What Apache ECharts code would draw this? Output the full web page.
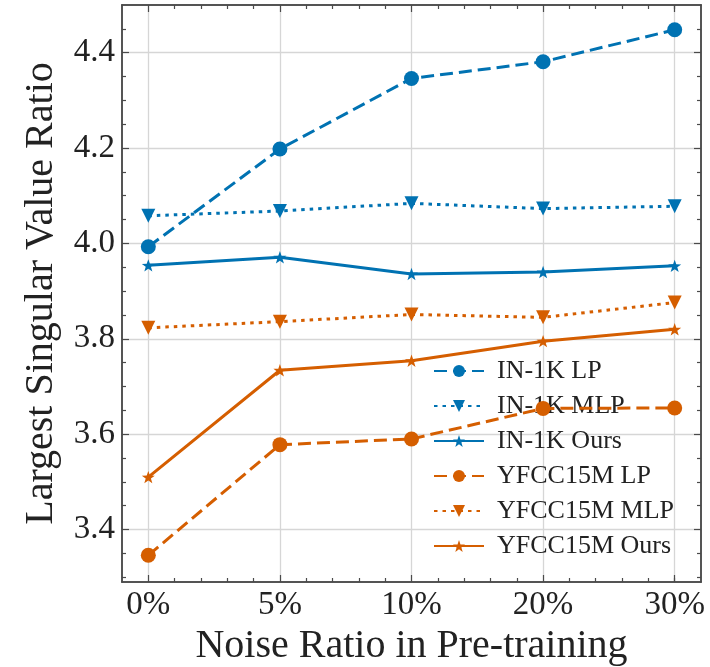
<!DOCTYPE html>
<html>
<head>
<meta charset="utf-8">
<script src="https://cdn.jsdelivr.net/npm/echarts@6/dist/echarts.min.js"></script>
<style>
  html, body { margin: 0; padding: 0; background: #fff; }
  #chart { width: 710px; height: 667px; }
</style>
</head>
<body>
<div id="chart"></div>
<script>
// Noise ratios used in pre-training (x categories)
const categories = ['0%', '5%', '10%', '20%', '30%'];

// Largest singular value ratio per setting
const in1kLP    = [3.993, 4.198, 4.346, 4.381, 4.448];
const in1kMLP   = [4.058, 4.068, 4.084, 4.073, 4.078];
const in1kOurs  = [3.954, 3.971, 3.936, 3.940, 3.953];
const yfccLP    = [3.346, 3.578, 3.590, 3.654, 3.655];
const yfccMLP   = [3.823, 3.836, 3.851, 3.845, 3.876];
const yfccOurs  = [3.510, 3.734, 3.754, 3.795, 3.820];

// Axis ticks
const yMajorTicks = [3.4, 3.6, 3.8, 4.0, 4.2, 4.4];
const yMinorTicks = [3.3, 3.35, 3.45, 3.5, 3.55, 3.65, 3.7, 3.75, 3.85, 3.9, 3.95,
                     4.05, 4.1, 4.15, 4.25, 4.3, 4.35, 4.45];
const xMajorTicks = [0, 1, 2, 3, 4];
const xMinorTicks = [0.2, 0.4, 0.6, 0.8, 1.2, 1.4, 1.6, 1.8, 2.2, 2.4, 2.6, 2.8,
                     3.2, 3.4, 3.6, 3.8, 4.0];

const BLUE = '#0072B2';
const ORANGE = '#D55E00';
const FONT = 'Liberation Serif';
const FRAME = '#4a4a4a';
const STAR = 'path://M0,-10 L2.35,-3.24 L9.51,-3.09 L3.8,1.24 L5.88,8.09 L0,4 L-5.88,8.09 L-3.8,1.24 L-9.51,-3.09 L-2.35,-3.24 Z';

const X_MIN = -0.2, X_MAX = 4.2, Y_MIN = 3.29, Y_MAX = 4.5;

function pts(values) {
  return values.map((v, i) => [i, v]);
}

function makeSeries(name, values, color, dash, symbol, size, rotate) {
  return {
    name: name,
    type: 'line',
    data: pts(values),
    xAxisIndex: 0,
    yAxisIndex: 0,
    symbol: symbol,
    symbolSize: size,
    symbolRotate: rotate || 0,
    symbolKeepAspect: true,
    showAllSymbol: true,
    itemStyle: { color: color, borderWidth: 0 },
    lineStyle: { color: color, width: 3, type: dash, cap: 'butt' },
    emphasis: { disabled: true },
    animation: false,
    z: 5
  };
}

const DASH = [13, 6];
const DOT = [3.5, 5];

function tickAxis(kind, position, ticks, len, withLabels, withSplit) {
  const isX = kind === 'x';
  return {
    type: 'value',
    position: position,
    min: isX ? X_MIN : Y_MIN,
    max: isX ? X_MAX : Y_MAX,
    axisLine: { show: true, onZero: false, lineStyle: { color: FRAME, width: 1.5 } },
    axisTick: {
      show: true, inside: true, length: len, customValues: ticks,
      lineStyle: { color: FRAME, width: 1.2 }
    },
    axisLabel: withLabels ? {
      show: true,
      customValues: ticks,
      fontFamily: FONT,
      fontSize: 33,
      color: '#222',
      margin: isX ? 7 : 7,
      formatter: isX ? (v) => categories[Math.round(v)] : (v) => v.toFixed(1)
    } : { show: false },
    splitLine: withSplit ? { show: true, lineStyle: { color: '#d6d6d6', width: 1.3 } } : { show: false },
    minorTick: { show: false },
    minorSplitLine: { show: false }
  };
}

const xMain = tickAxis('x', 'bottom', xMajorTicks, 7, true, true);
xMain.name = 'Noise Ratio in Pre-training';
xMain.nameLocation = 'middle';
xMain.nameGap = 42;
xMain.nameTextStyle = { fontFamily: FONT, fontSize: 40, color: '#222' };

const yMain = tickAxis('y', 'left', yMajorTicks, 7, true, true);
yMain.name = 'Largest Singular Value Ratio';
yMain.nameLocation = 'middle';
yMain.nameGap = 61;
yMain.nameTextStyle = { fontFamily: FONT, fontSize: 40, color: '#222' };

const option = {
  backgroundColor: '#ffffff',
  animation: false,
  grid: { left: 122, right: 9, top: 5, bottom: 85, containLabel: false, outerBoundsMode: 'none' },
  xAxis: [
    xMain,
    tickAxis('x', 'bottom', xMinorTicks, 4, false, false),
    tickAxis('x', 'top', xMajorTicks, 7, false, false),
    tickAxis('x', 'top', xMinorTicks, 4, false, false)
  ],
  yAxis: [
    yMain,
    tickAxis('y', 'left', yMinorTicks, 4, false, false),
    tickAxis('y', 'right', yMajorTicks, 7, false, false),
    tickAxis('y', 'right', yMinorTicks, 4, false, false)
  ],
  legend: {
    orient: 'vertical',
    left: 428,
    top: 353,
    itemWidth: 50,
    itemHeight: 15,
    itemGap: 9,
    textStyle: { fontFamily: FONT, fontSize: 26, color: '#222', lineHeight: 24, padding: [0, 0, 0, 8] },
    backgroundColor: 'transparent',
    selectedMode: false,
    data: ['IN-1K LP', 'IN-1K MLP', 'IN-1K Ours', 'YFCC15M LP', 'YFCC15M MLP', 'YFCC15M Ours']
  },
  series: [
    makeSeries('IN-1K LP', in1kLP, BLUE, DASH, 'circle', 15),
    makeSeries('IN-1K MLP', in1kMLP, BLUE, DOT, 'triangle', 14, 180),
    makeSeries('IN-1K Ours', in1kOurs, BLUE, 'solid', STAR, 13),
    makeSeries('YFCC15M LP', yfccLP, ORANGE, DASH, 'circle', 15),
    makeSeries('YFCC15M MLP', yfccMLP, ORANGE, DOT, 'triangle', 14, 180),
    makeSeries('YFCC15M Ours', yfccOurs, ORANGE, 'solid', STAR, 13)
  ]
};

const chart = echarts.init(document.getElementById('chart'), null, { renderer: 'canvas' });
chart.setOption(option);
</script>
</body>
</html>
